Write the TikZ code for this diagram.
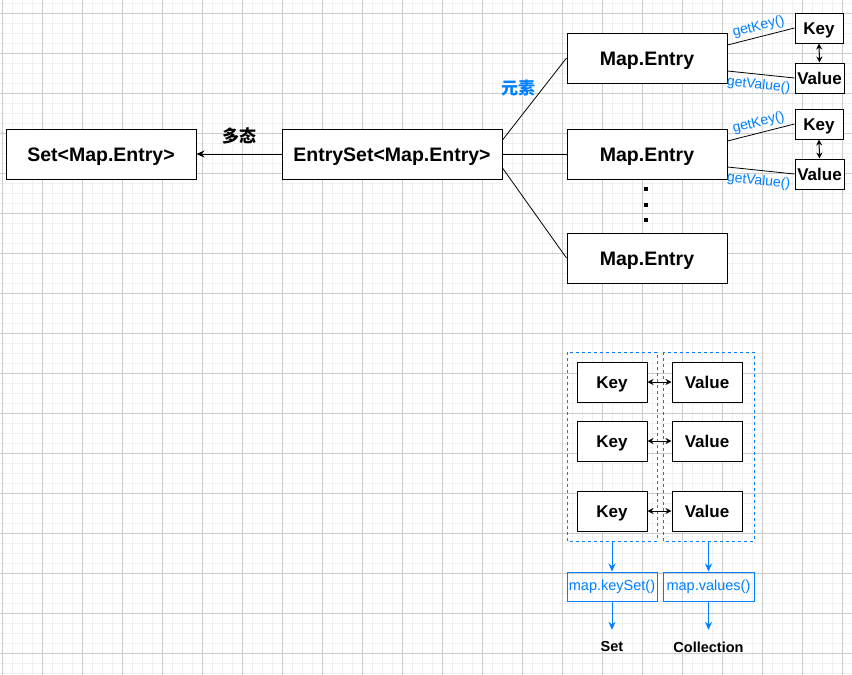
\documentclass[tikz,border=0pt]{standalone}
\usepackage{fontspec}
\setmainfont{Liberation Sans}
\newfontfamily\cjk{Noto Sans CJK SC}
\usetikzlibrary{arrows.meta}
\definecolor{drawblue}{RGB}{0,127,255}
\tikzset{
  box/.style={draw, line width=1pt, fill=white, inner sep=0pt, text height=14pt, text depth=0pt, font=\bfseries\fontsize{19.5}{22}\selectfont},
  kvbox/.style={draw, line width=1pt, fill=white, inner sep=0pt, text height=12.2pt, text depth=0pt, font=\bfseries\fontsize{17}{20}\selectfont},
  lbl/.style={text=drawblue, font=\fontsize{14}{16}\selectfont, inner sep=1pt},
  col/.style={draw=drawblue, line width=0.9pt, dash pattern=on 3pt off 3pt},
  fn/.style={draw=drawblue, line width=1pt, text=drawblue, inner sep=0pt, minimum height=29pt, font=\fontsize{14.5}{16}\selectfont},
  arr/.style={-{Stealth[length=8pt,width=7pt]}, line width=0.8pt},
  dbl/.style={{Stealth[length=6pt,width=6pt]}-{Stealth[length=6pt,width=6pt]}, line width=1pt},
}
\begin{document}
\begin{tikzpicture}[x=1pt,y=-1pt]
    \useasboundingbox (0,0) rectangle (852,675);
    % grid
    \foreach \x in {2,12,...,852} \draw[black!6, line width=0.8pt] (\x,0) -- (\x,675);
    \foreach \y in {3,13,...,673} \draw[black!6, line width=0.8pt] (0,\y) -- (852,\y);
    \foreach \x in {2,42,...,842} \draw[black!20, line width=0.8pt] (\x,0) -- (\x,675);
    \foreach \y in {13,53,...,653} \draw[black!20, line width=0.8pt] (0,\y) -- (852,\y);

    \node[box, minimum width=190pt, minimum height=50pt] (set) at (101,154) {Set<Map.Entry>};
    \node[box, minimum width=220pt, minimum height=50pt] (es) at (392,154) {EntrySet<Map.Entry>};
    \draw[arr] (es.west) -- node[above=6pt, font=\cjk\bfseries\fontsize{17}{20}\selectfont] {多态} (set.east);

    \node[box, minimum width=160pt, minimum height=50pt] (me1) at (647,58) {Map.Entry};
    \node[box, minimum width=160pt, minimum height=50pt] (me2) at (647,154) {Map.Entry};
    \node[box, minimum width=160pt, minimum height=50pt] (me3) at (647,258) {Map.Entry};
    \draw[line width=0.8pt] ([yshift=14pt]es.east) -- (me1.west);
    \draw[line width=0.8pt] (es.east) -- (me2.west);
    \draw[line width=0.8pt] ([yshift=-14pt]es.east) -- (me3.west);
    \node[text=drawblue, font=\cjk\bfseries\fontsize{17}{20}\selectfont] (elem) at (518,88) {元素};
    \foreach \y in {189,205,220} \fill (644,\y-2) rectangle (648,\y+2);

    \foreach \i/\y in {1/58,2/154} {
        \node[kvbox, minimum width=48pt, minimum height=30pt] (k\i) at (819,\y-30) {Key};
        \node[kvbox, minimum width=49pt, minimum height=30pt] (v\i) at (819.5,\y+20) {Value};
        \draw[line width=0.8pt] ([yshift=13pt]me\i.east) -- node[lbl, pos=0.5, above=2pt, sloped] {getKey()} (k\i.west);
        \draw[line width=0.8pt] ([yshift=-13pt]me\i.east) -- node[lbl, pos=0.48, below=3pt, sloped] {getValue()} (v\i.west);
        \draw[dbl] (k\i.south) -- (v\i.north);
    }

    % keys and values
    \draw[col] (567,352) rectangle (657,541);
    \draw[col] (663,352) rectangle (754,541);
    \coordinate (kcol) at (612,541);
    \coordinate (vcol) at (708.5,541);
    \foreach \i/\y in {1/382,2/441,3/511} {
        \node[kvbox, minimum width=70pt, minimum height=40pt] (key\i) at (612,\y) {Key};
        \node[kvbox, minimum width=70pt, minimum height=40pt] (val\i) at (707,\y) {Value};
        \draw[dbl] (key\i.east) -- (val\i.west);
    }
    \node[fn, minimum width=90pt] (ks) at (612,586.5) {map.keySet()};
    \node[fn, minimum width=91pt] (vs) at (708.5,586.5) {map.values()};
    \node[font=\bfseries\fontsize{14.5}{16}\selectfont, minimum height=34pt] (sres) at (612,647) {Set};
    \node[font=\bfseries\fontsize{14.5}{16}\selectfont, minimum height=34pt] (cres) at (708.5,647) {Collection};
    \draw[arr, drawblue] (kcol) -- (ks.north);
    \draw[arr, drawblue] (vcol) -- (vs.north);
    \draw[arr, drawblue] (ks.south) -- (sres.north);
    \draw[arr, drawblue] (vs.south) -- (cres.north);
\end{tikzpicture}
\end{document}
